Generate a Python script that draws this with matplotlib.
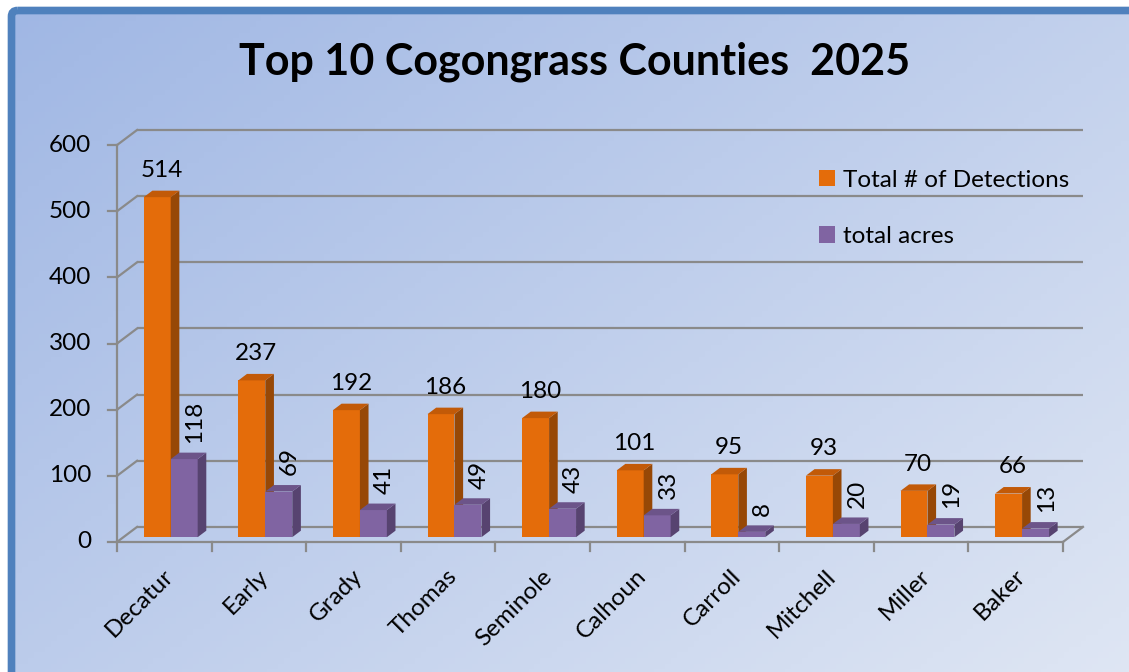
import numpy as np
import matplotlib
matplotlib.use("Agg")
import matplotlib.pyplot as plt
from matplotlib.patches import Polygon, Rectangle, FancyBboxPatch, Patch

counties = ["Decatur", "Early", "Grady", "Thomas", "Seminole",
            "Calhoun", "Carroll", "Mitchell", "Miller", "Baker"]
detections = [514, 237, 192, 186, 180, 101, 95, 93, 70, 66]
acres = [118, 69, 41, 49, 43, 33, 8, 20, 19, 13]
yticks = [0, 100, 200, 300, 400, 500, 600]
title = "Top 10 Cogongrass Counties  2025"
series_names = ["Total # of Detections", "total acres"]

FONT = "Lato"
FSZ = 17.5
W, H = 1129, 672
fig = plt.figure(figsize=(W / 100, H / 100), dpi=100)
fig.patch.set_facecolor("white")

# background with gradient and border
bg = fig.add_axes([0, 0, 1, 1])
bg.axis("off")
xx, yy = np.meshgrid(np.linspace(0, 1, 200), np.linspace(0, 1, 120))
t = np.clip(0.55 * xx + 0.45 * yy, 0, 1)[..., None]
c0 = np.array([160, 183, 228]) / 255
c1 = np.array([224, 231, 244]) / 255
img = c0 * (1 - t) + c1 * t
bg.imshow(img, extent=(11, W + 20, H + 20, 10), aspect="auto", zorder=0)
bg.add_patch(FancyBboxPatch((11.5, 10.5), 1300, 900,
                            boxstyle="round,pad=0,rounding_size=6",
                            lw=5.5, edgecolor="#4f81bd", facecolor="none", zorder=1))
bg.set_xlim(0, W)
bg.set_ylim(H, 0)

fig.text(575 / W, 1 - 62 / H, title, fontsize=31, fontweight="bold",
         family=FONT, ha="center", va="center")

# main axes
ax = fig.add_axes([117 / W, 130 / H, 966 / W, 412 / H])
ax.patch.set_alpha(0)
ax.axis("off")
DX, DY = 0.212, 22.8
n = len(counties)
ax.set_xlim(0, n + DX)
ax.set_ylim(0, 600 + DY)
grid_c = "#8a8a8a"
lw = 1.6

for v in yticks:
    ax.plot([DX, n + DX], [v + DY, v + DY], color=grid_c, lw=lw, zorder=1,
            clip_on=False, solid_capstyle="butt")
    ax.plot([0, DX], [v, v + DY], color=grid_c, lw=lw, zorder=1, clip_on=False)
    ax.plot([-0.09, 0], [v, v], color=grid_c, lw=lw, zorder=1, clip_on=False)
    ax.annotate(str(v), (0, v), xytext=(-18.5, 0), textcoords="offset points",
                ha="right", va="center", fontsize=FSZ, family=FONT)
ax.plot([0, 0], [0, 600], color=grid_c, lw=lw, zorder=1, clip_on=False)
ax.plot([0, n], [0, 0], color=grid_c, lw=lw, zorder=1, clip_on=False)
ax.plot([n, n + DX], [0, DY], color=grid_c, lw=lw, zorder=1, clip_on=False)
for k in range(n + 1):
    ax.plot([k, k], [0, -14], color=grid_c, lw=lw, zorder=1, clip_on=False)

FS, FE = 0.32, 0.75  # depth fraction where bar sits
bw = 0.285
colors = {
    "o": ("#e46c0a", "#c25a08", "#974806"),
    "p": ("#8064a2", "#6c5489", "#574370"),
}


def bar3d(x0, v, cols, z):
    front, top, side = cols
    ox, oy = FS * DX, FS * DY
    d = (FE - FS)
    ddx, ddy = d * DX, d * DY
    x0 = x0 + ox
    x1 = x0 + bw
    y0 = oy
    y1 = oy + v
    ax.add_patch(Rectangle((x0, y0), bw, v, facecolor=front, edgecolor="none", zorder=z))
    ax.add_patch(Polygon([(x1, y0), (x1 + ddx, y0 + ddy), (x1 + ddx, y1 + ddy), (x1, y1)],
                         closed=True, facecolor=side, edgecolor="none", zorder=z))
    ax.add_patch(Polygon([(x0, y1), (x0 + ddx, y1 + ddy), (x1 + ddx, y1 + ddy), (x1, y1)],
                         closed=True, facecolor=top, edgecolor="none", zorder=z))


for i, (d, a) in enumerate(zip(detections, acres)):
    xo = i + 0.5 - bw
    xp = i + 0.5
    bar3d(xp, a, colors["p"], 3)
    bar3d(xo, d, colors["o"], 2)
    ax.annotate(str(d), (xo + bw / 2 + 0.5 * DX * (FS + FE), d + FE * DY),
                xytext=(0, 7), textcoords="offset points", ha="center", va="bottom",
                fontsize=FSZ, family=FONT, zorder=5)
    ax.annotate(str(a), (xp + bw + 0.04, a + FE * DY),
                xytext=(0, 7), textcoords="offset points", ha="center", va="bottom",
                rotation=90, fontsize=FSZ, family=FONT, zorder=5)
    ax.annotate(counties[i], (i + 0.5, 0), xytext=(-1, -17), textcoords="offset points",
                ha="right", va="top", rotation=45, rotation_mode="anchor",
                fontsize=FSZ, family=FONT)

handles = [Patch(facecolor=colors["o"][0], label=series_names[0]),
           Patch(facecolor=colors["p"][0], label=series_names[1])]
fig.legend(handles=handles, loc="upper left", bbox_to_anchor=(797 / W, 1 - 148 / H),
           frameon=False, handlelength=0.65, handleheight=0.65, handletextpad=0.35,
           labelspacing=1.45, prop={"family": FONT, "size": FSZ})

fig.savefig("out.png", dpi=100)
